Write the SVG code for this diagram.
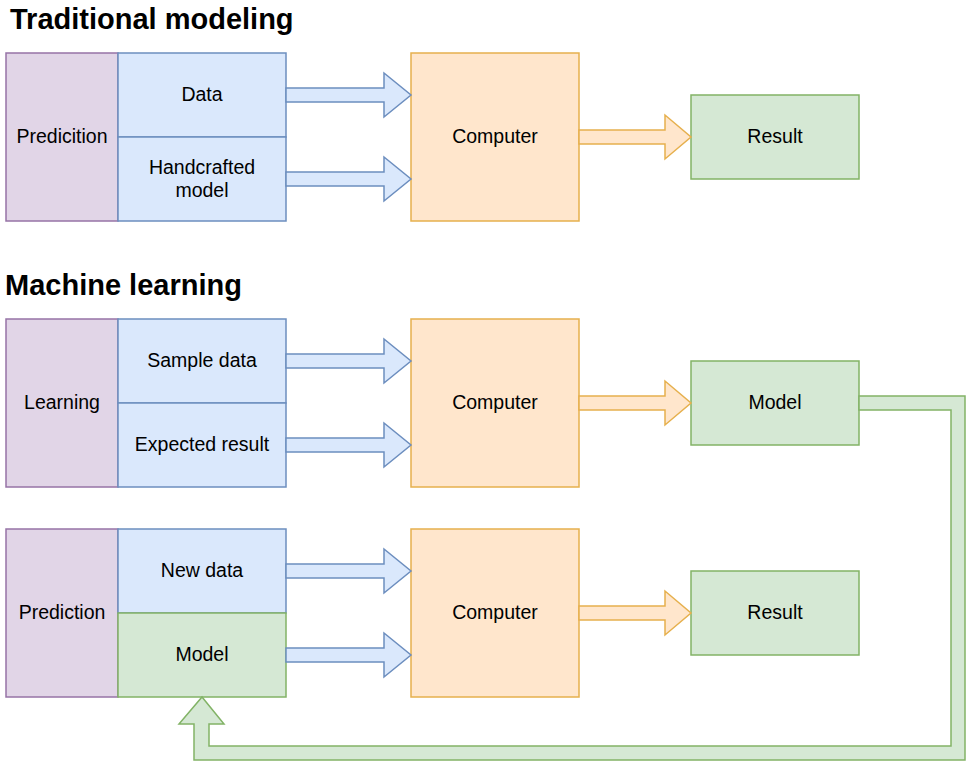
<svg xmlns="http://www.w3.org/2000/svg" width="978" height="771" viewBox="0 0 978 771">
<style>
text{font-family:"Liberation Sans",Arial,sans-serif;font-size:19.5px;fill:#000;text-anchor:middle}
.t{font-size:29px;font-weight:bold;text-anchor:start}
.p{fill:#e1d5e7;stroke:#9673a6;stroke-width:1.5}
.b{fill:#dae8fc;stroke:#6c8ebf;stroke-width:1.5}
.g{fill:#d5e8d4;stroke:#82b366;stroke-width:1.5}
.ob{fill:#ffe6cc;stroke:#e6b04d;stroke-width:1.5}
</style>
<rect width="978" height="771" fill="#fff"/>
<text class="t" x="10" y="29">Traditional modeling</text>
<text class="t" x="5" y="295">Machine learning</text>

<g id="trad-prediction"><rect class="p" x="6" y="53" width="112" height="168"/><text x="62" y="143">Predicition</text></g>
<g id="trad-data"><rect class="b" x="118" y="53" width="168" height="84"/><text x="202" y="101">Data</text></g>
<g id="trad-model"><rect class="b" x="118" y="137" width="168" height="84"/><text x="202" y="173.5">Handcrafted</text><text x="202" y="196.5">model</text></g>
<g id="trad-computer"><rect class="ob" x="411" y="53" width="168" height="168"/><text x="495" y="143">Computer</text></g>
<g id="trad-result"><rect class="g" x="691" y="95" width="168" height="84"/><text x="775" y="143">Result</text></g>

<g id="ml-learning"><rect class="p" x="6" y="319" width="112" height="168"/><text x="62" y="409">Learning</text></g>
<g id="ml-sample"><rect class="b" x="118" y="319" width="168" height="84"/><text x="202" y="367">Sample data</text></g>
<g id="ml-expected"><rect class="b" x="118" y="403" width="168" height="84"/><text x="202" y="451">Expected result</text></g>
<g id="ml-computer1"><rect class="ob" x="411" y="319" width="168" height="168"/><text x="495" y="409">Computer</text></g>
<g id="ml-model-out"><rect class="g" x="691" y="361" width="168" height="84"/><text x="775" y="409">Model</text></g>

<g id="ml-prediction"><rect class="p" x="6" y="529" width="112" height="168"/><text x="62" y="619">Prediction</text></g>
<g id="ml-newdata"><rect class="b" x="118" y="529" width="168" height="84"/><text x="202" y="577">New data</text></g>
<g id="ml-model-in"><rect class="g" x="118" y="613" width="168" height="84"/><text x="202" y="661">Model</text></g>
<g id="ml-computer2"><rect class="ob" x="411" y="529" width="168" height="168"/><text x="495" y="619">Computer</text></g>
<g id="ml-result"><rect class="g" x="691" y="571" width="168" height="84"/><text x="775" y="619">Result</text></g>

<g id="connectors">
<polygon class="b" points="286,88 384,88 384,73 411,95 384,117 384,102 286,102"/>
<polygon class="b" points="286,172 384,172 384,157 411,179 384,201 384,186 286,186"/>
<polygon class="ob" points="579,130 665,130 665,115 691,137 665,159 665,144 579,144"/>

<polygon class="b" points="286,354 384,354 384,339 411,361 384,383 384,368 286,368"/>
<polygon class="b" points="286,438 384,438 384,423 411,445 384,467 384,452 286,452"/>
<polygon class="ob" points="579,396 665,396 665,381 691,403 665,425 665,410 579,410"/>

<polygon class="b" points="286,564 384,564 384,549 411,571 384,593 384,578 286,578"/>
<polygon class="b" points="286,648 384,648 384,633 411,655 384,677 384,662 286,662"/>
<polygon class="ob" points="579,606 665,606 665,591 691,613 665,635 665,620 579,620"/>

<polygon class="g" points="859,396 965,396 965,760 194,760 194,724 179,724 202,697 224,724 209,724 209,746 951,746 951,410 859,410"/>
</g>
</svg>
